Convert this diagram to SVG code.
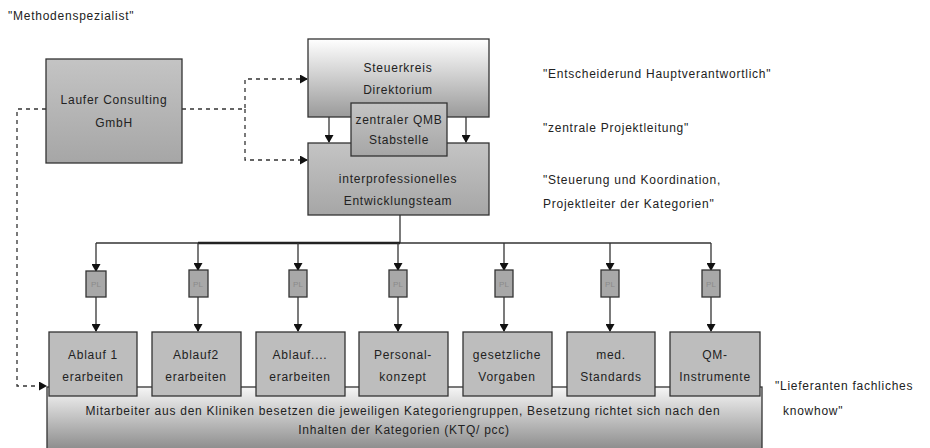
<svg xmlns="http://www.w3.org/2000/svg" width="930" height="448" viewBox="0 0 930 448">
<style>
text{font-family:"Liberation Sans",Arial,sans-serif;font-size:12px;letter-spacing:0.75px;fill:#222}
.c{text-anchor:middle}
.box{stroke:#333;stroke-width:1.3}
.ln{fill:none;stroke:#333;stroke-width:1.3}
.ds{fill:none;stroke:#333;stroke-width:1.3;stroke-dasharray:4,4}
.pl{fill:#a8a8a8;stroke:#333;stroke-width:1.3}
.plt{font-size:8px;letter-spacing:0;fill:#8a8a8a;text-anchor:middle}
</style>
<defs>
<marker id="ah" markerWidth="9" markerHeight="9" refX="7" refY="4.5" orient="auto" markerUnits="userSpaceOnUse"><path d="M0,0 L8,4.5 L0,9 Z" fill="#111"/></marker>
<linearGradient id="gTop" x1="0" y1="0" x2="0" y2="1"><stop offset="0" stop-color="#ffffff"/><stop offset="1" stop-color="#9a9a9a"/></linearGradient>
<linearGradient id="gMid" x1="0" y1="0" x2="0" y2="1"><stop offset="0" stop-color="#c4c4c4"/><stop offset="1" stop-color="#a6a6a6"/></linearGradient>
<linearGradient id="gBot" x1="0" y1="0" x2="0" y2="1"><stop offset="0" stop-color="#f6f6f6"/><stop offset="1" stop-color="#8a8a8a"/></linearGradient>
</defs>

<g id="connectors">
<path class="ds" d="M182,109 H245 V79 H307" marker-end="url(#ah)"/>
<path class="ds" d="M245,109 V160 H307" marker-end="url(#ah)"/>
<path class="ds" d="M46,109 H17 V386 H46" marker-end="url(#ah)"/>
<path class="ln" d="M329,117 V142" marker-end="url(#ah)"/>
<path class="ln" d="M466,117 V142" marker-end="url(#ah)"/>
<path class="ln" d="M400,215 V243"/>
<path class="ln" d="M96,243 H711"/>
<path d="M198,243 H400" stroke="#222" stroke-width="2.4"/>
<path class="ln" d="M96,243 V271" marker-end="url(#ah)"/>
<path class="ln" d="M198,243 V270" marker-end="url(#ah)"/>
<path class="ln" d="M298,243 V270" marker-end="url(#ah)"/>
<path class="ln" d="M398,243 V270" marker-end="url(#ah)"/>
<path class="ln" d="M504,243 V270" marker-end="url(#ah)"/>
<path class="ln" d="M610,243 V270" marker-end="url(#ah)"/>
<path class="ln" d="M711,243 V270" marker-end="url(#ah)"/>
<path class="ln" d="M96,297 V331" marker-end="url(#ah)"/>
<path class="ln" d="M198,297 V331" marker-end="url(#ah)"/>
<path class="ln" d="M298,297 V331" marker-end="url(#ah)"/>
<path class="ln" d="M398,297 V331" marker-end="url(#ah)"/>
<path class="ln" d="M504,297 V331" marker-end="url(#ah)"/>
<path class="ln" d="M610,297 V331" marker-end="url(#ah)"/>
<path class="ln" d="M711,297 V331" marker-end="url(#ah)"/>
</g>

<g id="labels">
<text x="8" y="20">"Methodenspezialist"</text>
<text x="543" y="78">"Entscheiderund Hauptverantwortlich"</text>
<text x="543" y="132">"zentrale Projektleitung"</text>
<text x="543" y="184">"Steuerung und Koordination,</text>
<text x="543" y="208">Projektleiter der Kategorien"</text>
<text x="775" y="390">"Lieferanten fachliches</text>
<text x="783" y="415">knowhow"</text>
</g>

<g id="laufer">
<rect class="box" x="46" y="59" width="136" height="104" fill="url(#gMid)"/>
<text class="c" x="114" y="104">Laufer Consulting</text>
<text class="c" x="114" y="127">GmbH</text>
</g>

<g id="steuerkreis">
<rect class="box" x="308" y="39" width="181" height="78" fill="url(#gTop)"/>
<text class="c" x="398" y="72">Steuerkreis</text>
<text class="c" x="398" y="94">Direktorium</text>
</g>

<g id="entwicklungsteam">
<rect class="box" x="308" y="143" width="181" height="72" fill="url(#gMid)"/>
<text class="c" x="398" y="183">interprofessionelles</text>
<text class="c" x="398" y="205">Entwicklungsteam</text>
</g>

<g id="qmb">
<rect class="box" x="351" y="103" width="96" height="53" fill="url(#gMid)"/>
<text class="c" x="399" y="124">zentraler QMB</text>
<text class="c" x="399" y="144">Stabstelle</text>
</g>

<g id="pl1"><rect class="pl" x="86" y="271" width="20" height="26"/><text class="plt" x="96" y="287">PL</text></g>
<g id="pl2"><rect class="pl" x="189" y="270" width="19" height="27"/><text class="plt" x="198" y="287">PL</text></g>
<g id="pl3"><rect class="pl" x="289" y="270" width="18" height="27"/><text class="plt" x="298" y="287">PL</text></g>
<g id="pl4"><rect class="pl" x="389" y="270" width="18" height="27"/><text class="plt" x="398" y="287">PL</text></g>
<g id="pl5"><rect class="pl" x="495" y="270" width="18" height="27"/><text class="plt" x="504" y="287">PL</text></g>
<g id="pl6"><rect class="pl" x="601" y="270" width="18" height="27"/><text class="plt" x="610" y="287">PL</text></g>
<g id="pl7"><rect class="pl" x="702" y="270" width="18" height="27"/><text class="plt" x="711" y="287">PL</text></g>

<g id="mitarbeiter">
<rect class="box" x="47" y="387" width="715" height="64" fill="url(#gBot)"/>
<text class="c" x="403" y="415">Mitarbeiter aus den Kliniken besetzen die jeweiligen Kategoriengruppen, Besetzung richtet sich nach den</text>
<text class="c" x="404" y="434">Inhalten der Kategorien (KTQ/ pcc)</text>
</g>

<g id="kat1"><rect class="box" x="49" y="332" width="88" height="64" fill="#bdbdbd"/><text class="c" x="93" y="359">Ablauf 1</text><text class="c" x="93" y="381">erarbeiten</text></g>
<g id="kat2"><rect class="box" x="152" y="332" width="89" height="64" fill="#bdbdbd"/><text class="c" x="196" y="359">Ablauf2</text><text class="c" x="196" y="381">erarbeiten</text></g>
<g id="kat3"><rect class="box" x="256" y="332" width="89" height="64" fill="#bdbdbd"/><text class="c" x="300" y="359">Ablauf....</text><text class="c" x="300" y="381">erarbeiten</text></g>
<g id="kat4"><rect class="box" x="359" y="332" width="89" height="64" fill="#bdbdbd"/><text class="c" x="403" y="359">Personal-</text><text class="c" x="403" y="381">konzept</text></g>
<g id="kat5"><rect class="box" x="463" y="332" width="89" height="64" fill="#bdbdbd"/><text class="c" x="507" y="359">gesetzliche</text><text class="c" x="507" y="381">Vorgaben</text></g>
<g id="kat6"><rect class="box" x="567" y="332" width="88" height="64" fill="#bdbdbd"/><text class="c" x="611" y="359">med.</text><text class="c" x="611" y="381">Standards</text></g>
<g id="kat7"><rect class="box" x="670" y="332" width="90" height="64" fill="#bdbdbd"/><text class="c" x="715" y="359">QM-</text><text class="c" x="715" y="381">Instrumente</text></g>
</svg>
